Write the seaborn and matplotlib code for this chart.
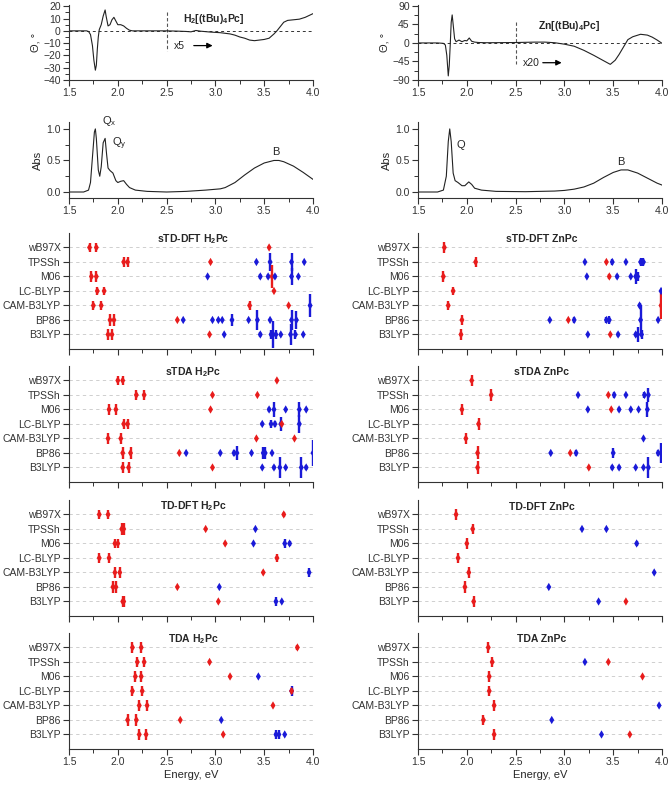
"""
CD / absorption spectra of H2Pc and ZnPc with calculated transitions
(sTD-DFT, sTDA, TD-DFT, TDA) for seven functionals.
"""

import pandas as pd
import matplotlib
matplotlib.use("Agg")
import matplotlib.pyplot as plt
from matplotlib.ticker import MultipleLocator
import seaborn as sns

# ---- experimental spectra (energy in eV) ----
cd_h2_E = [1.50, 1.60, 1.68, 1.70, 1.72, 1.74, 1.755, 1.77, 1.78, 1.79, 1.80, 1.81,
           1.83, 1.85, 1.87, 1.88, 1.90, 1.92, 1.94, 1.96, 1.98, 2.00, 2.03, 2.06,
           2.09, 2.12, 2.15, 2.30, 2.50, 2.60, 2.70, 2.75, 2.80, 2.85, 2.95, 3.05,
           3.15, 3.20, 3.25, 3.30, 3.35, 3.40, 3.45, 3.50, 3.55, 3.60, 3.63, 3.67,
           3.70, 3.74, 3.80, 3.86, 3.92, 3.96, 4.00]
cd_h2_val = [0, 0, 0, -0.5, -3, -12, -24, -32, -28, -15, -5, 1,
             5, 12, 17, 12, 4, 5, 9, 11, 8, 5, 5, 4,
             2, 0.5, 0, 0, 0, -0.2, -0.5, -0.8, 0.3, -0.3, -1, -1.5,
             -2.5, -3.5, -5, -6, -7.5, -8, -7.5, -7, -6, -2.5, 0, 4,
             7, 8.5, 9, 9.5, 11, 12.5, 14]

cd_zn_E = [1.50, 1.70, 1.76, 1.78, 1.795, 1.81, 1.82, 1.83, 1.84, 1.85, 1.86, 1.875,
           1.89, 1.92, 1.95, 1.98, 2.00, 2.025, 2.05, 2.08, 2.12, 2.20, 2.50, 2.70,
           2.80, 2.90, 3.00, 3.10, 3.20, 3.30, 3.40, 3.47, 3.52, 3.56, 3.60, 3.65,
           3.70, 3.78, 3.85, 3.90, 3.95, 4.00]
cd_zn_val = [0, 0, -1, -5, -30, -80, -55, -5, 50, 68, 45, 10,
             3, 7, 3, 6, 5, 12, 4, 2, 1, 0.5, 1, 2,
             2, 0.5, -3, -8, -18, -30, -43, -52, -42, -28, -12, 8,
             15, 21, 19, 14, 7, -1]

abs_h2_E = [1.50, 1.65, 1.70, 1.72, 1.74, 1.76, 1.77, 1.78, 1.80, 1.815, 1.83, 1.85,
            1.87, 1.885, 1.90, 1.92, 1.95, 1.98, 2.00, 2.03, 2.06, 2.09, 2.12, 2.18,
            2.30, 2.50, 2.70, 2.90, 3.05, 3.10, 3.15, 3.20, 3.30, 3.40, 3.50, 3.60,
            3.65, 3.70, 3.80, 3.90, 4.00]
abs_h2_val = [0, 0, 0.03, 0.15, 0.55, 0.95, 1.0, 0.85, 0.35, 0.25, 0.4, 0.78,
              0.85, 0.6, 0.38, 0.34, 0.30, 0.18, 0.15, 0.17, 0.18, 0.12, 0.07, 0.03,
              0.01, 0, 0.01, 0.03, 0.05, 0.07, 0.11, 0.15, 0.27, 0.38, 0.46, 0.5,
              0.5, 0.48, 0.41, 0.31, 0.2]

abs_zn_E = [1.50, 1.70, 1.76, 1.79, 1.81, 1.825, 1.84, 1.86, 1.88, 1.91, 1.95, 1.98,
            2.02, 2.05, 2.08, 2.15, 2.30, 2.60, 2.90, 3.00, 3.10, 3.20, 3.30, 3.40,
            3.50, 3.58, 3.65, 3.75, 3.85, 3.95, 4.00]
abs_zn_val = [0, 0, 0.03, 0.25, 0.8, 1.0, 0.8, 0.3, 0.18, 0.15, 0.1, 0.1,
              0.16, 0.12, 0.06, 0.03, 0.01, 0.005, 0.015, 0.025, 0.045, 0.08, 0.14, 0.23,
              0.31, 0.35, 0.35, 0.3, 0.22, 0.14, 0.11]

# ---- calculated transitions: (energy, functional, type, bar half-height) ----
# type "r" = red, "b" = blue
methods = ["wB97X", "TPSSh", "M06", "LC-BLYP", "CAM-B3LYP", "BP86", "B3LYP"]

stddft_h2 = [
    (1.71, "wB97X", "r", 0.3), (1.78, "wB97X", "r", 0.3), (3.55, "wB97X", "r", 0),
    (2.06, "TPSSh", "r", 0.35), (2.10, "TPSSh", "r", 0.35), (2.95, "TPSSh", "r", 0),
    (3.42, "TPSSh", "b", 0), (3.56, "TPSSh", "b", 0.65), (3.78, "TPSSh", "b", 0.65),
    (3.91, "TPSSh", "b", 0),
    (1.73, "M06", "r", 0.35), (1.78, "M06", "r", 0.35), (2.92, "M06", "b", 0),
    (3.46, "M06", "b", 0.2), (3.54, "M06", "b", 0.2), (3.58, "M06", "r", 0.8),
    (3.61, "M06", "b", 0.2), (3.78, "M06", "b", 0.6), (3.85, "M06", "b", 0),
    (1.79, "LC-BLYP", "r", 0.3), (1.86, "LC-BLYP", "r", 0.3), (3.60, "LC-BLYP", "r", 0),
    (1.75, "CAM-B3LYP", "r", 0.3), (1.83, "CAM-B3LYP", "r", 0.3), (3.35, "CAM-B3LYP", "r", 0.3),
    (3.75, "CAM-B3LYP", "r", 0), (3.97, "CAM-B3LYP", "b", 0.8),
    (1.92, "BP86", "r", 0.4), (1.96, "BP86", "r", 0.4), (2.61, "BP86", "r", 0),
    (2.67, "BP86", "b", 0), (2.97, "BP86", "b", 0), (3.03, "BP86", "b", 0.1),
    (3.07, "BP86", "b", 0.1), (3.17, "BP86", "b", 0.4), (3.34, "BP86", "b", 0),
    (3.43, "BP86", "b", 0.7), (3.56, "BP86", "b", 0), (3.78, "BP86", "b", 0.7),
    (3.83, "BP86", "b", 0.6),
    (1.90, "B3LYP", "r", 0.35), (1.94, "B3LYP", "r", 0.35), (2.94, "B3LYP", "r", 0),
    (3.09, "B3LYP", "b", 0), (3.46, "B3LYP", "b", 0.2), (3.57, "B3LYP", "b", 0.3),
    (3.59, "B3LYP", "b", 0.9), (3.62, "B3LYP", "b", 0.3), (3.67, "B3LYP", "b", 0),
    (3.77, "B3LYP", "b", 0.7), (3.82, "B3LYP", "b", 0.3), (3.90, "B3LYP", "b", 0),
]

stda_h2 = [
    (2.00, "wB97X", "r", 0.3), (2.05, "wB97X", "r", 0.3), (3.63, "wB97X", "r", 0),
    (2.19, "TPSSh", "r", 0.35), (2.27, "TPSSh", "r", 0.35), (2.97, "TPSSh", "r", 0),
    (3.43, "TPSSh", "r", 0),
    (1.91, "M06", "r", 0.35), (1.98, "M06", "r", 0.35), (2.95, "M06", "r", 0),
    (3.55, "M06", "b", 0.2), (3.60, "M06", "b", 0.5), (3.72, "M06", "b", 0),
    (3.86, "M06", "b", 0.5), (3.93, "M06", "b", 0),
    (2.06, "LC-BLYP", "r", 0.35), (2.10, "LC-BLYP", "r", 0.35), (3.48, "LC-BLYP", "b", 0.15),
    (3.57, "LC-BLYP", "b", 0.3), (3.61, "LC-BLYP", "b", 0.2), (3.67, "LC-BLYP", "b", 0.5),
    (3.68, "LC-BLYP", "r", 0), (3.86, "LC-BLYP", "b", 0.6),
    (1.90, "CAM-B3LYP", "r", 0.35), (2.03, "CAM-B3LYP", "r", 0.35),
    (3.42, "CAM-B3LYP", "r", 0), (3.81, "CAM-B3LYP", "r", 0),
    (2.05, "BP86", "r", 0.4), (2.13, "BP86", "r", 0.4), (2.63, "BP86", "r", 0),
    (2.70, "BP86", "b", 0), (3.05, "BP86", "b", 0), (3.19, "BP86", "b", 0.2),
    (3.22, "BP86", "b", 0.5), (3.37, "BP86", "b", 0), (3.49, "BP86", "b", 0.4),
    (3.51, "BP86", "b", 0.4), (3.58, "BP86", "b", 0), (4.00, "BP86", "b", 0.9),
    (2.05, "B3LYP", "r", 0.4), (2.11, "B3LYP", "r", 0.4), (2.97, "B3LYP", "r", 0),
    (3.48, "B3LYP", "b", 0), (3.60, "B3LYP", "b", 0.2), (3.66, "B3LYP", "b", 0.7),
    (3.72, "B3LYP", "b", 0), (3.88, "B3LYP", "b", 0.7), (3.93, "B3LYP", "b", 0.2),
]

tddft_h2 = [
    (1.81, "wB97X", "r", 0.3), (1.90, "wB97X", "r", 0.3), (3.70, "wB97X", "r", 0.2),
    (2.04, "TPSSh", "r", 0.4), (2.06, "TPSSh", "r", 0.4), (2.90, "TPSSh", "r", 0),
    (3.41, "TPSSh", "b", 0.1),
    (1.97, "M06", "r", 0.3), (2.00, "M06", "r", 0.3), (3.10, "M06", "r", 0),
    (3.39, "M06", "b", 0), (3.71, "M06", "b", 0.3), (3.76, "M06", "b", 0.2),
    (1.81, "LC-BLYP", "r", 0.35), (1.91, "LC-BLYP", "r", 0.35), (3.63, "LC-BLYP", "r", 0.3),
    (1.97, "CAM-B3LYP", "r", 0.35), (2.02, "CAM-B3LYP", "r", 0.35), (3.49, "CAM-B3LYP", "r", 0),
    (3.96, "CAM-B3LYP", "b", 0.3),
    (1.95, "BP86", "r", 0.4), (1.98, "BP86", "r", 0.4), (2.61, "BP86", "r", 0),
    (3.04, "BP86", "b", 0),
    (2.05, "B3LYP", "r", 0.4), (2.06, "B3LYP", "r", 0.4), (3.03, "B3LYP", "r", 0),
    (3.62, "B3LYP", "b", 0.3), (3.68, "B3LYP", "b", 0),
]

tda_h2 = [
    (2.15, "wB97X", "r", 0.35), (2.24, "wB97X", "r", 0.35), (3.84, "wB97X", "r", 0.2),
    (2.20, "TPSSh", "r", 0.35), (2.27, "TPSSh", "r", 0.35), (2.94, "TPSSh", "r", 0),
    (2.18, "M06", "r", 0.35), (2.24, "M06", "r", 0.35), (3.15, "M06", "r", 0),
    (3.44, "M06", "b", 0),
    (2.15, "LC-BLYP", "r", 0.35), (2.25, "LC-BLYP", "r", 0.35), (3.78, "LC-BLYP", "b", 0.35),
    (3.78, "LC-BLYP", "r", 0.2),
    (2.22, "CAM-B3LYP", "r", 0.4), (2.30, "CAM-B3LYP", "r", 0.4), (3.59, "CAM-B3LYP", "r", 0),
    (2.10, "BP86", "r", 0.4), (2.19, "BP86", "r", 0.4), (2.64, "BP86", "r", 0),
    (3.06, "BP86", "b", 0),
    (2.22, "B3LYP", "r", 0.4), (2.29, "B3LYP", "r", 0.4), (3.08, "B3LYP", "r", 0),
    (3.62, "B3LYP", "b", 0.3), (3.65, "B3LYP", "b", 0.3), (3.71, "B3LYP", "b", 0),
]

stddft_zn = [
    (1.77, "wB97X", "r", 0.35),
    (2.09, "TPSSh", "r", 0.35), (3.21, "TPSSh", "b", 0), (3.43, "TPSSh", "r", 0),
    (3.49, "TPSSh", "b", 0.2), (3.63, "TPSSh", "b", 0), (3.78, "TPSSh", "b", 0.3),
    (3.81, "TPSSh", "b", 0.3),
    (1.76, "M06", "r", 0.4), (3.23, "M06", "b", 0), (3.46, "M06", "r", 0.2),
    (3.54, "M06", "b", 0.2), (3.68, "M06", "b", 0), (3.73, "M06", "b", 0.5),
    (3.75, "M06", "b", 0.3),
    (1.86, "LC-BLYP", "r", 0.3), (3.99, "LC-BLYP", "b", 0),
    (1.81, "CAM-B3LYP", "r", 0.3), (3.77, "CAM-B3LYP", "b", 0.2), (3.99, "CAM-B3LYP", "r", 0.9),
    (1.95, "BP86", "r", 0.35), (2.85, "BP86", "b", 0), (3.04, "BP86", "r", 0),
    (3.10, "BP86", "b", 0.2), (3.43, "BP86", "b", 0.2), (3.46, "BP86", "b", 0.3),
    (3.78, "BP86", "b", 1.0), (3.96, "BP86", "b", 0),
    (1.94, "B3LYP", "r", 0.4), (3.24, "B3LYP", "b", 0), (3.47, "B3LYP", "r", 0),
    (3.55, "B3LYP", "b", 0.2), (3.73, "B3LYP", "b", 0.2), (3.75, "B3LYP", "b", 0.5),
    (3.79, "B3LYP", "b", 0.3),
]

stda_zn = [
    (2.05, "wB97X", "r", 0.35),
    (2.25, "TPSSh", "r", 0.4), (3.14, "TPSSh", "b", 0), (3.45, "TPSSh", "r", 0),
    (3.51, "TPSSh", "b", 0.2), (3.63, "TPSSh", "b", 0), (3.82, "TPSSh", "b", 0.2),
    (3.86, "TPSSh", "b", 0.5),
    (1.95, "M06", "r", 0.35), (3.24, "M06", "b", 0), (3.48, "M06", "r", 0),
    (3.56, "M06", "b", 0.2), (3.68, "M06", "b", 0), (3.76, "M06", "b", 0),
    (3.85, "M06", "b", 0.5),
    (2.12, "LC-BLYP", "r", 0.4),
    (1.99, "CAM-B3LYP", "r", 0.35), (3.81, "CAM-B3LYP", "b", 0),
    (2.11, "BP86", "r", 0.45), (2.86, "BP86", "b", 0), (3.06, "BP86", "r", 0),
    (3.12, "BP86", "b", 0.2), (3.50, "BP86", "b", 0.35), (3.96, "BP86", "b", 0.2),
    (3.99, "BP86", "b", 0.7),
    (2.11, "B3LYP", "r", 0.45), (3.25, "B3LYP", "r", 0), (3.49, "B3LYP", "b", 0.2),
    (3.56, "B3LYP", "b", 0.2), (3.73, "B3LYP", "b", 0), (3.81, "B3LYP", "b", 0),
    (3.86, "B3LYP", "b", 0.7),
]

tddft_zn = [
    (1.89, "wB97X", "r", 0.35),
    (2.06, "TPSSh", "r", 0.35), (3.18, "TPSSh", "b", 0), (3.43, "TPSSh", "b", 0),
    (2.00, "M06", "r", 0.35), (3.74, "M06", "b", 0.2),
    (1.91, "LC-BLYP", "r", 0.35),
    (2.02, "CAM-B3LYP", "r", 0.35), (3.92, "CAM-B3LYP", "b", 0),
    (1.98, "BP86", "r", 0.4), (2.84, "BP86", "b", 0),
    (2.07, "B3LYP", "r", 0.4), (3.35, "B3LYP", "b", 0), (3.63, "B3LYP", "r", 0),
]

tda_zn = [
    (2.22, "wB97X", "r", 0.35),
    (2.26, "TPSSh", "r", 0.35), (3.21, "TPSSh", "b", 0), (3.45, "TPSSh", "r", 0),
    (2.23, "M06", "r", 0.35), (3.80, "M06", "r", 0),
    (2.23, "LC-BLYP", "r", 0.35),
    (2.28, "CAM-B3LYP", "r", 0.4), (3.97, "CAM-B3LYP", "b", 0),
    (2.17, "BP86", "r", 0.35), (2.87, "BP86", "b", 0),
    (2.28, "B3LYP", "r", 0.4), (3.38, "B3LYP", "b", 0), (3.67, "B3LYP", "r", 0),
]

pal = {"r": "#e81c1c", "b": "#1a1ad8"}

sns.set_theme(style="ticks")
plt.rcParams["font.family"] = ["Liberation Sans", "DejaVu Sans"]
plt.rcParams["mathtext.fontset"] = "custom"
plt.rcParams["mathtext.rm"] = "Liberation Sans"
plt.rcParams["mathtext.bf"] = "Liberation Sans:bold"
plt.rcParams["mathtext.default"] = "regular"
plt.rcParams["axes.edgecolor"] = "#333333"
plt.rcParams["xtick.color"] = "#333333"
plt.rcParams["ytick.color"] = "#333333"

FS = 7.5


def style_axes(ax, labels=True):
    ax.spines[["top", "right"]].set_visible(False)
    for s in ("left", "bottom"):
        ax.spines[s].set_linewidth(0.8)
    ax.set_xlim(1.5, 4.0)
    ax.xaxis.set_major_locator(MultipleLocator(0.5))
    ax.xaxis.set_minor_locator(MultipleLocator(0.25))
    ax.tick_params(which="major", direction="out", length=4, width=0.8,
                   labelsize=FS, pad=2)
    ax.tick_params(which="minor", direction="out", length=3, width=0.7)
    if not labels:
        ax.tick_params(axis="x", labelbottom=False)
    ax.set_xlabel("")
    ax.set_ylabel("")


def cd_panel(ax, E, val, ylim, yticks, name, scale, scale_y, vl):
    ax.axhline(0, color="#333333", lw=0.7, ls=(0, (3, 3)))
    ax.plot([2.5, 2.5], vl, color="#555555", lw=0.8, ls=(0, (3, 2)))
    sns.lineplot(x=E, y=val, color="#222222", lw=0.8, ax=ax)
    ax.set_ylim(*ylim)
    ax.set_yticks(yticks)
    style_axes(ax)
    ax.yaxis.set_minor_locator(MultipleLocator((yticks[1] - yticks[0]) / 2))
    ax.set_ylabel("Θ, °", fontsize=FS + 0.5, labelpad=2)
    ax.text(2.98 if scale == "x5" else 3.05, ylim[1] * 0.45, name,
            ha="center", va="center", fontsize=FS, fontweight="bold")
    ax.text(2.57, scale_y, scale, ha="left", va="center", fontsize=FS)
    ax.annotate("", xy=(3.0, scale_y), xytext=(2.75, scale_y),
                arrowprops=dict(arrowstyle="-|>", color="black", lw=0.9,
                                mutation_scale=8))


def abs_panel(ax, E, val, labels):
    sns.lineplot(x=E, y=val, color="#222222", lw=0.8, ax=ax)
    ax.set_ylim(-0.095, 1.11)
    ax.set_yticks([0.0, 0.5, 1.0])
    style_axes(ax)
    ax.yaxis.set_minor_locator(MultipleLocator(0.25))
    ax.set_ylabel("Abs", fontsize=FS + 0.5, labelpad=2)
    for x, y, t in labels:
        ax.text(x, y, t, ha="left", va="center", fontsize=FS + 0.5)


def method_panel(ax, pts, title, last):
    df = pd.DataFrame(pts, columns=["E", "method", "kind", "bar"])
    df["row"] = df["method"].map(methods.index)
    ax.set_axisbelow(True)
    ax.yaxis.grid(True, color="#c8c8c8", lw=0.6, ls=(0, (4, 4)))
    bars = df[df["bar"] > 0]
    ax.vlines(bars["E"], bars["row"] - bars["bar"], bars["row"] + bars["bar"],
              colors=bars["kind"].map(pal), lw=1.7, zorder=2)
    sns.scatterplot(data=df, x="E", y="row", hue="kind", palette=pal,
                    marker="d", s=18, linewidth=0, legend=False, ax=ax, zorder=3)
    ax.set_ylim(7.0, -1.0)
    ax.set_yticks(range(len(methods)))
    ax.set_yticklabels(methods)
    style_axes(ax, labels=last)
    ax.tick_params(axis="y", which="minor", left=False)
    ax.text(2.77, -0.55, title, ha="center", va="center",
            fontsize=FS, fontweight="bold")
    if last:
        ax.set_xlabel("Energy, eV", fontsize=FS + 0.5, labelpad=2)


fig = plt.figure(figsize=(6.7, 7.86), dpi=100)

W = 0.3642
XL, XR = 0.103, 0.6239
rows_y = [(0.8982, 0.0954), (0.7481, 0.0967),
          (0.5560, 0.1476), (0.3868, 0.1476), (0.2163, 0.1476), (0.0471, 0.1476)]

ax = fig.add_axes([XL, rows_y[0][0], W, rows_y[0][1]])
cd_panel(ax, cd_h2_E, cd_h2_val, (-40, 21), [-40, -30, -20, -10, 0, 10, 20],
         "H$_2$[(tBu)$_4$Pc]", "x5", -12, (15, -16))
ax = fig.add_axes([XR, rows_y[0][0], W, rows_y[0][1]])
cd_panel(ax, cd_zn_E, cd_zn_val, (-90, 92), [-90, -45, 0, 45, 90],
         "Zn[(tBu)$_4$Pc]", "x20", -48, (50, -52))

ax = fig.add_axes([XL, rows_y[1][0], W, rows_y[1][1]])
abs_panel(ax, abs_h2_E, abs_h2_val,
          [(1.84, 1.12, "Q$_x$"), (1.94, 0.76, "Q$_y$"), (3.58, 0.64, "B")])
ax = fig.add_axes([XR, rows_y[1][0], W, rows_y[1][1]])
abs_panel(ax, abs_zn_E, abs_zn_val, [(1.89, 0.74, "Q"), (3.54, 0.48, "B")])

left_sets = [(stddft_h2, "sTD-DFT H$_2$Pc"), (stda_h2, "sTDA H$_2$Pc"),
             (tddft_h2, "TD-DFT H$_2$Pc"), (tda_h2, "TDA H$_2$Pc")]
right_sets = [(stddft_zn, "sTD-DFT ZnPc"), (stda_zn, "sTDA ZnPc"),
              (tddft_zn, "TD-DFT ZnPc"), (tda_zn, "TDA ZnPc")]

for i in range(4):
    b, h = rows_y[i + 2]
    ax = fig.add_axes([XL, b, W, h])
    method_panel(ax, left_sets[i][0], left_sets[i][1], i == 3)
    ax = fig.add_axes([XR, b, W, h])
    method_panel(ax, right_sets[i][0], right_sets[i][1], i == 3)

fig.savefig("out.png", dpi=100)
